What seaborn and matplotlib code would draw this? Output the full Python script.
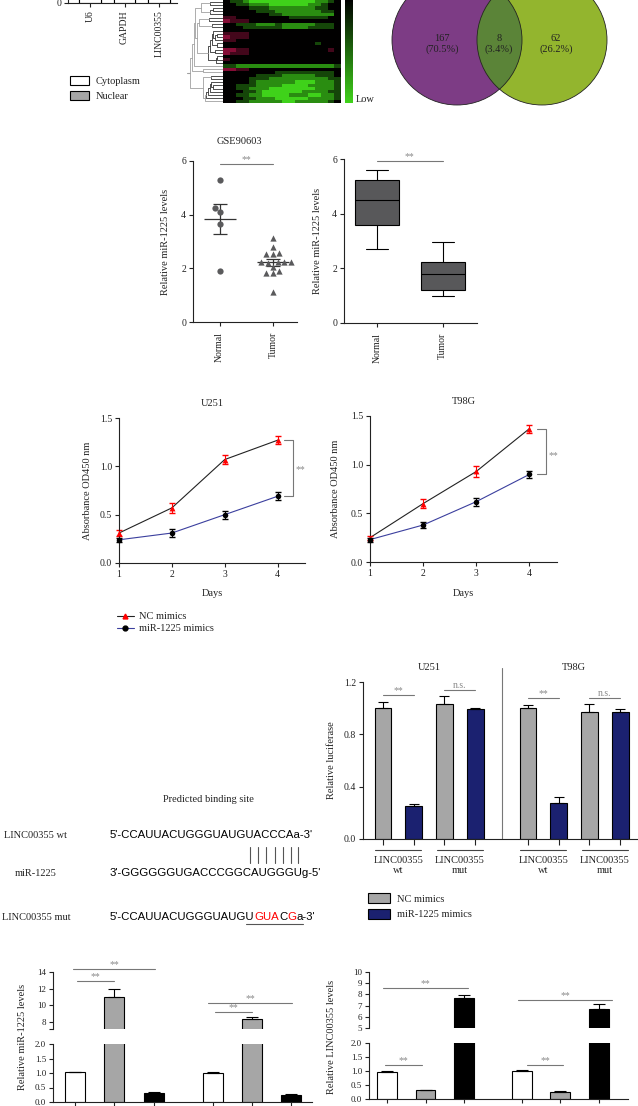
import numpy as np
import pandas as pd
import matplotlib
matplotlib.use("Agg")
import matplotlib.pyplot as plt
import seaborn as sns
from matplotlib.colors import LinearSegmentedColormap
from matplotlib.patches import Circle, Patch
from matplotlib.lines import Line2D

W, H = 638, 1106

# ---------------- data ----------------
# subcellular fractionation (bars run off the top edge of the figure)
loc_genes = ["U6", "GAPDH", "LINC00355"]
loc_cytoplasm = [10, 85, 30]
loc_nuclear = [90, 15, 70]
loc_legend = ["Cytoplasm", "Nuclear"]

# expression heatmap, visible rows only: 0 = low (green), 3 = black, 6 = high (red)
heat_rows = [
    "322100000000001123",
    "332211100000011233",
    "333322211111112233",
    "333332221111111223",
    "333333322111111113",
    "443333333322222233",
    "544433333333333333",
    "332221112111112223",
    "333222222111122223",
    "333333333333333333",
    "444433333333333333",
    "544433333333333333",
    "443333333333333333",
    "333333333333332333",
    "333333333333333333",
    "554433333333333343",
    "544433333333333333",
    "333333333333333333",
    "433333333333333333",
    "333333333333333333",
    "221111111111111112",
    "554433333333333333",
    "333333332222222223",
    "333332222111112223",
    "333322211111111122",
    "333321111110001112",
    "332221111000011112",
    "332211100000001112",
    "333221000000111122",
    "332211000011100112",
    "333221110000011112",
    "332211111001111123",
]

venn_counts = [167, 8, 62]

# GSE90603 dot plot
gse_groups = ["Normal", "Tumor"]
gse_normal = [5.29, 4.24, 4.09, 3.65, 1.91]
gse_tumor = [3.12, 2.81, 2.58, 2.55, 2.53, 2.22, 2.22, 2.19, 2.22, 2.22,
             2.06, 1.90, 1.81, 1.81, 1.13]
# box plot: min, q1, median, q3, max
box_normal = [2.72, 3.60, 4.50, 5.22, 5.58]
box_tumor = [0.98, 1.20, 1.80, 2.25, 2.95]

# CCK-8 growth curves
days = [1, 2, 3, 4]
growth_legend = ["NC mimics", "miR-1225 mimics"]
u251_nc = [0.31, 0.57, 1.07, 1.27]
u251_nc_err = [0.03, 0.05, 0.05, 0.04]
u251_mir = [0.24, 0.31, 0.50, 0.69]
u251_mir_err = [0.02, 0.04, 0.04, 0.04]
t98g_nc = [0.25, 0.60, 0.93, 1.37]
t98g_nc_err = [0.02, 0.045, 0.06, 0.04]
t98g_mir = [0.23, 0.38, 0.62, 0.90]
t98g_mir_err = [0.02, 0.03, 0.04, 0.04]

# binding site
site_title = "Predicted binding site"
site_labels = ["LINC00355 wt", "miR-1225", "LINC00355 mut"]
seq_wt = "5'-CCAUUACUGGGUAUGUACCCAa-3'"
seq_mir = "3'-GGGGGGUGACCCGGCAUGGGUg-5'"
seq_mut = "5'-CCAUUACUGGGUAUGUGUACGa-3'"
mut_red = [19, 20, 21, 23]        # mutated bases
pair_idx = list(range(18, 25))    # paired bases marked with bars
mut_line = (18, 24)               # underlined stretch

# luciferase reporter (U251 wt, U251 mut, T98G wt, T98G mut)
luc_cells = ["U251", "T98G"]
luc_constructs = ["LINC00355\nwt", "LINC00355\nmut"]
luc_treat = ["NC mimics", "miR-1225 mimics"]
luc_nc = [1.005, 1.034, 1.000, 0.973]
luc_nc_err = [0.040, 0.060, 0.023, 0.060]
luc_mir = [0.255, 0.995, 0.275, 0.968]
luc_mir_err = [0.013, 0.004, 0.043, 0.028]

# rescue qPCR (two cell lines x three conditions, labels cut off in the figure)
rescue_kinds = ["NC", "miR-1225 mimics", "LINC00355"]
mir_levels = [1.02, 11.05, 0.32, 1.00, 8.32, 0.25]
mir_levels_err = [0.03, 0.95, 0.02, 0.02, 0.32, 0.02]
linc_levels = [0.98, 0.31, 7.71, 1.01, 0.25, 6.67]
linc_levels_err = [0.015, 0.02, 0.24, 0.015, 0.03, 0.45]

# ---------------- style ----------------
sns.set_theme(style="ticks")
plt.rcParams["font.family"] = ["Liberation Serif", "DejaVu Serif"]
plt.rcParams.update({
    "font.size": 7.5, "axes.linewidth": 0.8, "axes.edgecolor": "#222222",
    "xtick.major.width": 0.8, "ytick.major.width": 0.8,
    "xtick.major.size": 3, "ytick.major.size": 3,
    "xtick.labelsize": 7, "ytick.labelsize": 7,
    "xtick.major.pad": 2, "ytick.major.pad": 2,
    "xtick.color": "#222222", "ytick.color": "#222222", "text.color": "#222222",
})
GRAY = "#a6a6a6"
NAVY = "#1b2170"
STAR = "#8a8a8a"
SEQ = dict(family=["Liberation Sans", "DejaVu Sans"], fontsize=8.2)

fig = plt.figure(figsize=(W / 100, H / 100), dpi=100)


def box(x0, y0, x1, y1):
    # axes placed by pixel edges, y measured from the top
    return fig.add_axes([x0 / W, 1 - y1 / H, (x1 - x0) / W, (y1 - y0) / H])


ov = box(0, 0, W, H)
ov.set_xlim(0, W)
ov.set_ylim(H, 0)
ov.axis("off")
ov.set_zorder(10)


def ylab(x, y, text, size=7.5):
    ov.text(x, y, text, rotation=90, ha="center", va="center", fontsize=size)


def sig(ax, x0, x1, y, label="**", dy=0.0):
    ax.plot([x0, x1], [y, y], color="#777777", lw=0.8, clip_on=False)
    ax.text((x0 + x1) / 2, y + dy, label, ha="center", va="bottom", color=STAR, fontsize=7)


# ---------------- localisation bars ----------------
ax = box(68, -150, 177, 3)
sns.barplot(x=loc_genes, y=np.add(loc_cytoplasm, loc_nuclear), color=GRAY, edgecolor="black",
            linewidth=0.8, width=0.62, saturation=1, ax=ax)
sns.barplot(x=loc_genes, y=loc_cytoplasm, color="white", edgecolor="black",
            linewidth=0.8, width=0.62, saturation=1, ax=ax)
ax.set_xlim(-0.64, 2.52)
ax.set_ylim(0, 100)
ax.set_yticks([0])
ax.tick_params(axis="x", labelrotation=90)
sns.despine(ax=ax)
fig.legend(handles=[Patch(fc="white", ec="black", lw=0.8), Patch(fc=GRAY, ec="black", lw=0.8)],
           labels=loc_legend, loc="upper left", bbox_to_anchor=(70 / W, 1 - 76 / H),
           frameon=False, fontsize=7.5, handlelength=1.8, handleheight=1.0,
           labelspacing=0.45, handletextpad=0.7, borderpad=0, borderaxespad=0)

# ---------------- heatmap + dendrogram ----------------
heat = np.array([[int(c) for c in r] for r in heat_rows]) - 3
hax = box(223, 0, 341, 103)
cax = box(345, -103, 353, 103)
cmap = LinearSegmentedColormap.from_list("gkr", ["#3fd21a", "#000000", "#c81450"])
sns.heatmap(heat, cmap=cmap, vmin=-3, vmax=3, ax=hax, cbar_ax=cax,
            xticklabels=False, yticklabels=False)
cax.set_yticks([])
cax.tick_params(length=0)
hax.collections[0].colorbar.outline.set_visible(False)
ov.text(356, 99, "Low", ha="left", va="center")

dax = box(187, 0, 223, 103)
clusters = [dict(y=i + 0.5, h=0.0, v=row.astype(float), n=1) for i, row in enumerate(heat)]
merges = []
while len(clusters) > 1:
    d = [np.linalg.norm(clusters[i]["v"] - clusters[i + 1]["v"]) for i in range(len(clusters) - 1)]
    i = int(np.argmin(d))
    a, b = clusters[i], clusters[i + 1]
    h = max(d[i], a["h"], b["h"]) + 0.4
    merges.append((a["h"], b["h"], a["y"], b["y"], h))
    n = a["n"] + b["n"]
    clusters[i:i + 2] = [dict(y=(a["y"] + b["y"]) / 2, h=h, v=(a["v"] * a["n"] + b["v"] * b["n"]) / n, n=n)]
root = clusters[0]
for ha_, hb_, ya, yb, h in merges:
    col = "#a0a0a0" if h > 0.55 * root["h"] else "#333333"
    dax.plot([ha_, h, h, hb_], [ya, ya, yb, yb], color=col, lw=0.6)
dax.plot([root["h"], root["h"] * 1.1], [root["y"]] * 2, color="#a0a0a0", lw=0.8)
dax.set_xlim(root["h"] * 1.1, 0)
dax.set_ylim(len(heat), 0)
dax.axis("off")

# ---------------- venn ----------------
pc = Circle((457, 40), 65, fc="#7d3c85", ec="none")
gc = Circle((542, 40), 65, fc="#93b52e", ec="none")
ov.add_patch(pc)
ov.add_patch(gc)
ic = Circle((542, 40), 65, fc="#5b8438", ec="none")
ov.add_patch(ic)
ic.set_clip_path(pc)
for cx in (457, 542):
    ov.add_patch(Circle((cx, 40), 65, fc="none", ec="#222222", lw=0.6))
total = sum(venn_counts)
for x, c in zip((442, 499, 556), venn_counts):
    ov.text(x, 44, f"{c}\n({c / total * 100:.1f}%)", ha="center", va="center", linespacing=1.25)

# ---------------- GSE90603 dot plot ----------------
ax = box(193, 161, 297, 322)
sns.swarmplot(x=["Normal"] * len(gse_normal), y=gse_normal, order=gse_groups, marker="o",
              color="#5a5a5c", size=4.5, ax=ax)
sns.swarmplot(x=["Tumor"] * len(gse_tumor), y=gse_tumor, order=gse_groups, marker="^",
              color="#5a5a5c", size=4.5, ax=ax)
for i, vals in enumerate([gse_normal, gse_tumor]):
    m = np.mean(vals)
    s = np.std(vals, ddof=1) / np.sqrt(len(vals))
    ax.hlines(m, i - 0.3, i + 0.3, color="#333333", lw=0.9)
    ax.errorbar(i, m, yerr=s, color="#333333", capsize=5, lw=0.9, capthick=0.9)
ax.set_xlim(-0.5, 1.45)
ax.set_ylim(0, 6)
ax.set_yticks([0, 2, 4, 6])
ax.tick_params(axis="x", labelrotation=90, pad=4)
sig(ax, 0, 1, 5.88)
sns.despine(ax=ax)
ov.text(239, 142, "GSE90603", ha="center", va="center")
ylab(165, 242, "Relative miR-1225 levels")

# ---------------- box plot ----------------
ax = box(344, 159, 477, 323)
sns.boxplot(x=["Normal"] * 5 + ["Tumor"] * 5, y=box_normal + box_tumor, order=gse_groups,
            width=0.67, color="#58585a", linecolor="black", linewidth=0.8, whis=(0, 100),
            saturation=1, ax=ax)
ax.set_xlim(-0.5, 1.52)
ax.set_ylim(0, 6)
ax.set_yticks([0, 2, 4, 6])
ax.tick_params(axis="x", labelrotation=90, pad=4)
sig(ax, 0, 1, 5.94)
sns.despine(ax=ax)
ylab(318, 241, "Relative miR-1225 levels")


# ---------------- growth curves ----------------
def growth(rect, nc, nc_err, mir, mir_err, br_x, star_y, title, tx, ty):
    ax = box(*rect)
    sns.lineplot(x=days, y=nc, color="#222222", lw=0.8, ax=ax)
    sns.lineplot(x=days, y=mir, color="#3b3f9e", lw=0.8, ax=ax)
    ax.errorbar(days, nc, yerr=nc_err, fmt="none", ecolor="red", capsize=2, lw=0.8, clip_on=False)
    ax.errorbar(days, mir, yerr=mir_err, fmt="none", ecolor="black", capsize=2, lw=0.8, clip_on=False)
    sns.scatterplot(x=days, y=nc, marker="^", color="red", s=18, linewidth=0, ax=ax,
                    clip_on=False, zorder=4)
    sns.scatterplot(x=days, y=mir, marker="o", color="black", s=16, linewidth=0, ax=ax,
                    clip_on=False, zorder=4)
    ax.plot([br_x - 0.17, br_x, br_x, br_x - 0.17], [nc[-1], nc[-1], mir[-1], mir[-1]],
            color="#777777", lw=0.8, clip_on=False)
    ax.text(br_x + 0.15, star_y, "**", ha="center", va="center", color=STAR, fontsize=7)
    ax.set_xlim(1, 4.52)
    ax.set_ylim(0, 1.5)
    ax.set_xticks(days)
    ax.set_yticks([0, 0.5, 1.0, 1.5])
    ax.set_yticklabels(["0.0", "0.5", "1.0", "1.5"])
    sns.despine(ax=ax)
    cx = (rect[0] + rect[2]) / 2
    ov.text(cx, ty, title, ha="center", va="center")
    ov.text(cx, 594, "Days", ha="center", va="center")
    ylab(tx, (rect[1] + rect[3]) / 2, "Absorbance OD450 nm")


growth((119, 418, 305, 563), u251_nc, u251_nc_err, u251_mir, u251_mir_err, 4.29, 0.97, "U251", 88, 403)
growth((370, 416, 557, 562), t98g_nc, t98g_nc_err, t98g_mir, t98g_mir_err, 4.31, 1.09, "T98G", 335, 402)
fig.legend(handles=[Line2D([], [], color="#222222", lw=0.8, marker="^", mfc="red", mec="red", ms=3.5),
                    Line2D([], [], color="#3b3f9e", lw=0.8, marker="o", mfc="black", mec="black", ms=3.5)],
           labels=growth_legend, loc="upper left", bbox_to_anchor=(117 / W, 1 - 612 / H),
           frameon=False, fontsize=7.5, handlelength=1.6, labelspacing=0.25,
           handletextpad=0.5, borderpad=0, borderaxespad=0)

# ---------------- binding site ----------------
ov.text(208, 799, site_title, ha="center", va="center")
for y, lab in zip((835, 873, 917), site_labels):
    ov.text(36, y, lab, ha="center", va="center")

renderer = fig.canvas.get_renderer()


def ink_width(s):
    t = ov.text(0, 0, s, **SEQ)
    w = t.get_window_extent(renderer).width
    t.remove()
    return w


BAR_W = ink_width("|")


def char_x(x0, s, i):
    # left edge of character i when s is drawn left-aligned at x0
    return x0 + (ink_width(s[:i] + "|") - BAR_W if i else 0.0)


def seq_line(x0, y, s, red=()):
    runs, start = [], 0
    for i in range(1, len(s) + 1):
        if i == len(s) or (i in red) != (start in red):
            runs.append((start, i))
            start = i
    for a, b in runs:
        ov.text(char_x(x0, s, a), y, s[a:b], ha="left", va="center",
                color="red" if a in red else "black", **SEQ)


seq_line(110, 835, seq_wt)
seq_line(110, 873, seq_mir)
seq_line(110, 917, seq_mut, red=mut_red)
for i in pair_idx:
    xc = (char_x(110, seq_wt, i) + char_x(110, seq_wt, i + 1)) / 2
    ov.plot([xc, xc], [847, 863], color="#555555", lw=0.8)
ov.plot([char_x(110, seq_mut, mut_line[0]), char_x(110, seq_mut, mut_line[1] + 1)], [924, 924],
        color="#555555", lw=0.8)

# ---------------- luciferase ----------------
GROUP_STEP = 4.72
rows = []
for ci in range(len(luc_cells)):
    for ki in range(len(luc_constructs)):
        j = ci * 2 + ki
        for ti, (v, e) in enumerate([(luc_nc[j], luc_nc_err[j]), (luc_mir[j], luc_mir_err[j])]):
            rows.append(dict(pos=ci * GROUP_STEP + ki * 2 + ti, val=v, err=e, treat=luc_treat[ti]))
luc = pd.DataFrame(rows)
ax = box(363, 682, 638, 839)
sns.barplot(data=luc, x="pos", y="val", hue="treat", palette=dict(zip(luc_treat, [GRAY, NAVY])),
            native_scale=True, dodge=False, width=0.55, edgecolor="black", linewidth=0.8,
            saturation=1, errorbar=None, legend=False, ax=ax)
ax.errorbar(luc["pos"], luc["val"], yerr=[np.zeros(len(luc)), luc["err"]], fmt="none",
            ecolor="black", capsize=3.5, lw=0.8, capthick=0.8)
ax.set_xlim(-0.65, 8.3)
ax.set_ylim(0, 1.2)
ax.set_yticks([0, 0.4, 0.8, 1.2])
ax.set_yticklabels(["0.0", "0.4", "0.8", "1.2"])
ax.set_xticks(luc["pos"])
ax.set_xticklabels([])
ax.tick_params(axis="x", length=4)
ax.set_xlabel("")
ax.set_ylabel("")
sns.despine(ax=ax)
sep = (3 + GROUP_STEP) / 2
ax.plot([sep, sep], [0, 1.31], color="#777777", lw=0.8, clip_on=False)
sig_y = [1.103, 1.14, 1.078, 1.078]
for ci, cell in enumerate(luc_cells):
    ax.text(ci * GROUP_STEP + 1.5, 1.31, cell, ha="center", va="center")
    for ki, con in enumerate(luc_constructs):
        c = ci * GROUP_STEP + ki * 2 + 0.5
        ax.plot([c - 0.75, c + 0.75], [-0.084, -0.084], color="#444444", lw=0.8, clip_on=False)
        ax.text(c, -0.13, con, ha="center", va="top", linespacing=1.1)
        sig(ax, c - 0.5, c + 0.5, sig_y[ci * 2 + ki], "n.s." if ki else "**")
ylab(332, 760, "Relative luciferase")
fig.legend(handles=[Patch(fc=GRAY, ec="black", lw=0.8), Patch(fc=NAVY, ec="black", lw=0.8)],
           labels=luc_treat, loc="upper left", bbox_to_anchor=(368 / W, 1 - 893 / H),
           frameon=False, fontsize=7.5, handlelength=2.1, handleheight=1.1,
           labelspacing=0.5, handletextpad=0.7, borderpad=0, borderaxespad=0)


# ---------------- rescue qPCR (broken axes) ----------------
def broken(top_rect, bot_rect, vals, errs, top_lim, top_ticks, xlim, label, lx):
    pos = [g * 3.5 + k for g in range(2) for k in range(3)]
    df = pd.DataFrame(dict(pos=pos, val=vals, kind=rescue_kinds * 2))
    top, bot = box(*top_rect), box(*bot_rect)
    for a in (top, bot):
        sns.barplot(data=df, x="pos", y="val", hue="kind",
                    palette=dict(zip(rescue_kinds, ["white", GRAY, "black"])),
                    native_scale=True, dodge=False, width=0.51, edgecolor="black", linewidth=0.8,
                    saturation=1, errorbar=None, legend=False, ax=a)
        a.errorbar(pos, vals, yerr=[np.zeros(6), errs], fmt="none", ecolor="black",
                   capsize=4.5, lw=0.8, capthick=0.8)
        a.set_xlim(*xlim)
        a.set_xlabel("")
        a.set_ylabel("")
    top.set_ylim(*top_lim)
    ticks = top_ticks if top_ticks[0] == top_lim[0] else [top_lim[0]] + top_ticks
    top.set_yticks(ticks)
    top.set_yticklabels([str(t) if t in top_ticks else "" for t in ticks])
    top.set_xticks([])
    sns.despine(ax=top, bottom=True)
    bot.set_ylim(0, 2)
    bot.set_yticks([0, 0.5, 1.0, 1.5, 2.0])
    bot.set_yticklabels(["0.0", "0.5", "1.0", "1.5", "2.0"])
    bot.set_xticks(pos)
    bot.set_xticklabels([])
    sns.despine(ax=bot)
    for a in (top, bot):
        a.tick_params(labelsize=6.5)
    ylab(lx, 1037, label, size=7.5)
    return top, bot


top, bot = broken((53, 972, 312, 1029), (53, 1044, 312, 1102), mir_levels, mir_levels_err,
                  (7.16, 14), [8, 10, 12, 14], (-0.56, 6.03), "Relative miR-1225 levels", 23)
sig(top, 0.05, 1.0, 12.9)
sig(top, -0.05, 2.03, 14.36)
sig(top, 3.56, 4.5, 9.24)
sig(top, 3.38, 5.52, 10.3)

top, bot = broken((369, 972, 628, 1028), (369, 1043, 628, 1099), linc_levels, linc_levels_err,
                  (5, 10), [5, 6, 7, 8, 9, 10], (-0.47, 6.26), "Relative LINC00355 levels", 332)
sig(bot, -0.05, 0.92, 1.21)
sig(bot, 3.64, 4.57, 1.21)
sig(top, -0.1, 2.1, 8.54)
sig(top, 3.4, 5.85, 7.5)

fig.savefig("out.png", dpi=100)
